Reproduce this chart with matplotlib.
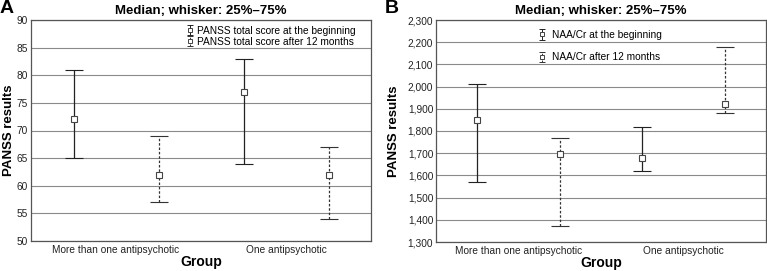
import matplotlib
matplotlib.use("Agg")
import matplotlib.pyplot as plt
import numpy as np

plt.rcParams["font.family"] = ["Liberation Sans", "DejaVu Sans"]

groups = ["More than one antipsychotic", "One antipsychotic"]

# Panel A: PANSS (low, median, high) per group
panss_begin_med = [72, 77]
panss_begin_lo = [65, 64]
panss_begin_hi = [81, 83]
panss_12m_med = [62, 62]
panss_12m_lo = [57, 54]
panss_12m_hi = [69, 67]

# Panel B: NAA/Cr
naa_begin_med = [1850, 1680]
naa_begin_lo = [1570, 1620]
naa_begin_hi = [2010, 1820]
naa_12m_med = [1697, 1922]
naa_12m_lo = [1370, 1880]
naa_12m_hi = [1770, 2180]

panss_ticks = [50, 55, 60, 65, 70, 75, 80, 85, 90]
naa_ticks = [1300, 1400, 1500, 1600, 1700, 1800, 1900, 2000, 2100, 2200, 2300]


def draw_series(ax, x, med, lo, hi, ls, color, label):
    med = np.array(med)
    err = [med - np.array(lo), np.array(hi) - med]
    eb = ax.errorbar(x, med, yerr=err, fmt="s", mfc="white", mec="#444444",
                     ms=4.5, mew=0.8, ecolor=color, elinewidth=0.9,
                     capsize=6.5, capthick=0.9, zorder=3)
    for part in eb[2]:
        part.set_linestyle(ls)
    # small proxy for the legend icon
    pr = ax.errorbar([np.nan], [np.nan], yerr=[[1], [1]], fmt="s", mfc="white",
                     mec="#444444", ms=3.5, mew=0.7, ecolor=color,
                     elinewidth=0.7, capsize=2, capthick=0.7, label=label)
    for part in pr[2]:
        part.set_linestyle(ls)
    return eb


W, H = 767, 271
fig = plt.figure(figsize=(W / 100, H / 100), dpi=100)
ax_a = fig.add_axes([31 / W, 1 - 241 / H, 340 / W, 221 / H])
ax_b = fig.add_axes([436 / W, 1 - 242 / H, 330 / W, 222 / H])

x = np.arange(len(groups))
panels = [
    (ax_a, "A", 0, -0.047, panss_begin_med, panss_begin_lo, panss_begin_hi,
     panss_12m_med, panss_12m_lo, panss_12m_hi, panss_ticks,
     "PANSS total score at the beginning", "PANSS total score after 12 months"),
    (ax_b, "B", 385, -0.109, naa_begin_med, naa_begin_lo, naa_begin_hi,
     naa_12m_med, naa_12m_lo, naa_12m_hi, naa_ticks,
     "NAA/Cr at the beginning", "NAA/Cr after 12 months"),
]

for ax, letter, lx, ylx, bm, bl, bh, am, al, ah, ticks, lab1, lab2 in panels:
    draw_series(ax, x - 0.25, bm, bl, bh, "-", "#222222", lab1)
    draw_series(ax, x + 0.25, am, al, ah, (0, (2, 1.5)), "#333333", lab2)
    ax.set_xlim(-0.5, 1.5)
    ax.set_ylim(ticks[0], ticks[-1])
    ax.set_yticks(ticks)
    if letter == "B":
        ax.set_yticklabels([f"{t:,}" for t in ticks])
    ax.set_xticks(x)
    ax.set_xticklabels(groups)
    ax.tick_params(axis="both", labelsize=7.3, length=0, colors="#222222")
    ax.tick_params(axis="y", pad=2)
    ax.tick_params(axis="x", pad=3)
    ax.grid(axis="y", color="#8a8a8a", lw=0.8)
    ax.set_axisbelow(True)
    for s in ax.spines.values():
        s.set_color("#555555")
        s.set_linewidth(0.9)
    ax.set_ylabel("PANSS results", fontsize=9.5, fontweight="bold")
    ax.yaxis.set_label_coords(ylx, 0.5)
    ax.set_xlabel("Group", fontsize=10, fontweight="bold", labelpad=0)
    ax.set_title("Median; whisker: 25%\u201375%", fontsize=9.5,
                 fontweight="bold", pad=4)
    fig.text(lx / W, 1.0, letter, fontsize=14, fontweight="bold",
             va="top", ha="left")

ax_a.legend(loc="upper left", frameon=False, fontsize=7.3,
            handlelength=0.6, handletextpad=0.4, labelspacing=0.1,
            borderaxespad=0.0, borderpad=0.0,
            bbox_to_anchor=((187 - 31) / 340, 0.975))
ax_b.legend(loc="upper left", frameon=False, fontsize=7.3,
            handlelength=0.6, handletextpad=0.7, labelspacing=1.2,
            borderaxespad=0.0, borderpad=0.0,
            bbox_to_anchor=((539 - 436) / 330, 0.955))

fig.savefig("out.png", dpi=100)
